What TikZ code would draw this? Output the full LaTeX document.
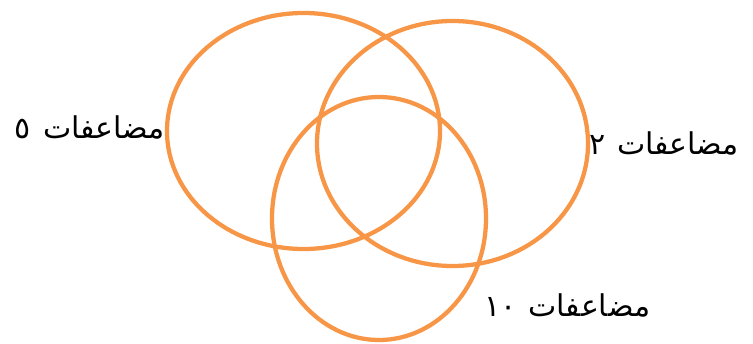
\documentclass[tikz,border=0pt]{standalone}
\usepackage{fontspec}
\TeXXeTstate=1
\newfontfamily\arabicfont[Script=Arabic]{DejaVu Sans}
\definecolor{venn}{RGB}{247,150,70}
\tikzset{
  vennset/.style={draw=venn, line width=3.2pt},
  setlabel/.style={font=\arabicfont\fontsize{22.5}{27}\selectfont, inner sep=0pt, text=black}
}
\begin{document}
\begin{tikzpicture}[x=0.75pt,y=-0.75pt]
\useasboundingbox (0,0) rectangle (753,343);
\draw[vennset] (303.5,131) ellipse [x radius=136.5, y radius=118];
\draw[vennset] (452.5,143.5) ellipse [x radius=135.5, y radius=122.5];
\draw[vennset] (379,218.5) ellipse [x radius=107, y radius=121.5];
\node[setlabel, anchor=east] (l5) at (165,127) {\beginR مضاعفات\hspace{0.4em}\beginL ٥\endL\endR};
\node[setlabel, anchor=west] (l2) at (589,143) {\beginR مضاعفات\hspace{0.4em}\beginL ٢\endL\endR};
\node[setlabel, anchor=west] (l10) at (484,305) {\beginR مضاعفات\hspace{0.4em}\beginL ١٠\endL\endR};
\end{tikzpicture}
\end{document}
